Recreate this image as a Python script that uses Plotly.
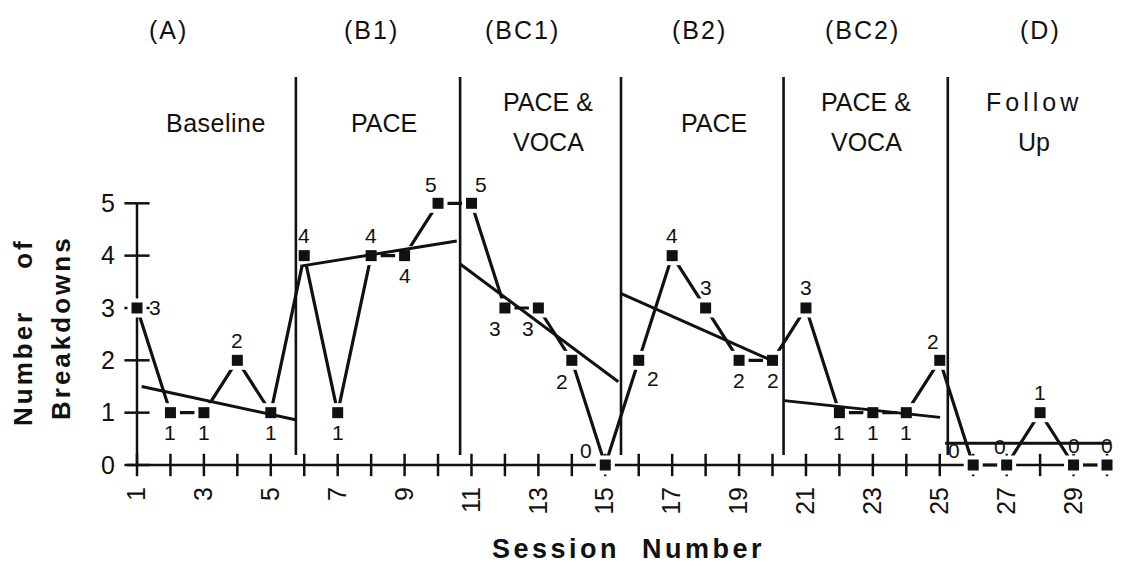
import plotly.graph_objects as go

# ---------------- data ----------------
sessions = list(range(1, 31))
breakdowns = [3, 1, 1, 2, 1,
              4, 1, 4, 4, 5,
              5, 3, 3, 2, 0,
              2, 4, 3, 2, 2,
              3, 1, 1, 1, 2,
              0, 0, 1, 0, 0]
# where each value label sits relative to its point
label_place = ["r", "b", "b", "t", "b",
               "t", "b", "t", "b", "tl",
               "tr", "bl", "bl", "bl", "l",
               "br", "t", "t", "b", "b",
               "t", "b", "b", "b", "tl",
               "l", "tl", "t", "t", "t"]

phase_codes = ["(A)", "(B1)", "(BC1)", "(B2)", "(BC2)", "(D)"]
phase_names = [["Baseline"], ["PACE"], ["PACE &", "VOCA"], ["PACE"], ["PACE &", "VOCA"], ["Follow", "Up"]]
phase_breaks = [5.75, 10.66, 15.47, 20.33, 25.24]

# per-phase trend lines (start / end session and level)
trend_x0 = [1.14, 5.89, 10.66, 15.46, 20.35, 25.16]
trend_x1 = [5.77, 10.56, 15.39, 20.07, 25.01, 30.09]
trend_y0 = [1.50, 3.80, 3.84, 3.28, 1.23, 0.415]
trend_y1 = [0.86, 4.28, 1.59, 1.97, 0.91, 0.415]

x_ticks = [s for s in sessions if s % 2 == 1]
y_ticks = [0, 1, 2, 3, 4, 5]

# ---------------- geometry / style ----------------
W, H = 1123, 567
X_FIRST_PX, X_LAST_PX = 137, 1107
Y0_PX, Y5_PX = 465, 203.3
ux = (X_LAST_PX - X_FIRST_PX) / (sessions[-1] - sessions[0])
uy = (Y0_PX - Y5_PX) / 5
x_range = [sessions[0] - X_FIRST_PX / ux, sessions[-1] + (W - X_LAST_PX) / ux]
y_range = [-(H - Y0_PX) / uy, 5 + Y5_PX / uy]

FONT = "Liberation Sans, Arial, Helvetica, sans-serif"
BLACK = "#111111"
PLACE_OFFSET = {"t": (0, -20), "b": (0, 20), "r": (18, 0), "tr": (10, -19),
                "tl": (-7, -19), "bl": (-10, 21), "br": (14, 18), "l": (-19, -15)}

fig = go.Figure()

# axis lines (drawn below the marker halos)
fig.add_trace(go.Scatter(x=[sessions[0] - 0.3, sessions[-1] + 0.1], y=[0, 0], mode="lines",
                         line=dict(color=BLACK, width=2.5), hoverinfo="skip"))
fig.add_trace(go.Scatter(x=[sessions[0], sessions[0]], y=[y_ticks[0], y_ticks[-1]], mode="lines",
                         line=dict(color=BLACK, width=2.5), hoverinfo="skip"))
# crossing tick marks
fig.add_trace(go.Scatter(x=sessions, y=[0] * len(sessions), mode="markers",
                         marker=dict(symbol="line-ns", size=16, line=dict(color=BLACK, width=2.5)),
                         hoverinfo="skip"))
fig.add_trace(go.Scatter(x=[sessions[0]] * len(y_ticks), y=y_ticks, mode="markers",
                         marker=dict(symbol="line-ew", size=18, line=dict(color=BLACK, width=2.5)),
                         hoverinfo="skip"))

# data line
fig.add_trace(go.Scatter(x=sessions, y=breakdowns, mode="lines",
                         line=dict(color=BLACK, width=3.2), hoverinfo="skip"))
# white halos around the data points (gaps in the connecting line)
fig.add_trace(go.Scatter(x=sessions, y=breakdowns, mode="markers",
                         marker=dict(symbol="square", size=19, color="white"), hoverinfo="skip"))

# trend lines
tx, ty = [], []
for a, b, c, d in zip(trend_x0, trend_x1, trend_y0, trend_y1):
    tx += [a, b, None]
    ty += [c, d, None]
fig.add_trace(go.Scatter(x=tx, y=ty, mode="lines", line=dict(color=BLACK, width=3),
                         hoverinfo="skip"))

# phase change lines
PH_Y0 = (Y0_PX - 455) / uy
PH_Y1 = (Y0_PX - 77) / uy
px_, py_ = [], []
for b in phase_breaks:
    px_ += [b, b, None]
    py_ += [PH_Y0, PH_Y1, None]
fig.add_trace(go.Scatter(x=px_, y=py_, mode="lines", line=dict(color=BLACK, width=2.6),
                         hoverinfo="skip"))

# data markers
fig.add_trace(go.Scatter(x=sessions, y=breakdowns, mode="markers",
                         marker=dict(symbol="square", size=11, color=BLACK),
                         cliponaxis=False, hoverinfo="skip"))

# ---------------- annotations ----------------
ann = []
# value labels next to each point
for s, v, p in zip(sessions, breakdowns, label_place):
    dx, dy = PLACE_OFFSET[p]
    ann.append(dict(x=s, y=v, xref="x", yref="y", text=str(v), showarrow=False,
                    xanchor="center", yanchor="middle", xshift=dx, yshift=-dy,
                    font=dict(family=FONT, size=21, color=BLACK)))

code_x_px = [168, 371, 522, 699, 862, 1040]
name_x_px = [216, 384, 548, 714, 866, 1034]
name_spacing = [[0.5], [0], [0, 0], [0], [0, 0], [4, 0]]
for code, cx in zip(phase_codes, code_x_px):
    ann.append(dict(x=cx / W, y=1 - 30 / H, xref="paper", yref="paper",
                    text='<span style="letter-spacing:2px">' + code + '</span>',
                    showarrow=False, xanchor="center", yanchor="middle",
                    font=dict(family=FONT, size=25, color=BLACK)))
for lines, nx, sps in zip(phase_names, name_x_px, name_spacing):
    ys = [123] if len(lines) == 1 else [102, 142]
    for t, yy, sp in zip(lines, ys, sps):
        ann.append(dict(x=nx / W, y=1 - yy / H, xref="paper", yref="paper",
                        text='<span style="letter-spacing:%gpx">%s</span>' % (sp, t),
                        showarrow=False, xanchor="center", yanchor="middle",
                        font=dict(family=FONT, size=25, color=BLACK)))

TITLE_FONT = dict(family=FONT, size=27, color=BLACK)
ann.append(dict(x=628 / W, y=1 - 549 / H, xref="paper", yref="paper",
                text='<b><span style="letter-spacing:3.5px">Session\u00a0\u00a0Number</span></b>',
                showarrow=False, xanchor="center", yanchor="middle", font=TITLE_FONT))
ann.append(dict(x=23 / W, y=1 - 332 / H, xref="paper", yref="paper",
                text='<b><span style="letter-spacing:3px">Number\u00a0\u00a0\u00a0\u00a0of</span></b>',
                showarrow=False, xanchor="center", yanchor="middle", textangle=-90,
                font=dict(family=FONT, size=26, color=BLACK)))
ann.append(dict(x=61 / W, y=1 - 328 / H, xref="paper", yref="paper",
                text='<b><span style="letter-spacing:3px">Breakdowns</span></b>',
                showarrow=False, xanchor="center", yanchor="middle", textangle=-90,
                font=dict(family=FONT, size=26, color=BLACK)))

fig.update_layout(
    width=W, height=H, autosize=False,
    margin=dict(l=0, r=0, t=0, b=0, pad=0),
    paper_bgcolor="white", plot_bgcolor="white",
    showlegend=False,
    annotations=ann,
    xaxis=dict(range=x_range, anchor="free", position=(H - Y0_PX) / H,
               showgrid=False, zeroline=False, showline=False, ticks="",
               tickvals=x_ticks, ticktext=[str(v) for v in x_ticks], tickangle=-90,
               ticklabelstandoff=16, tickfont=dict(family=FONT, size=25, color=BLACK),
               layer="below traces", fixedrange=True),
    yaxis=dict(range=y_range, anchor="free", position=X_FIRST_PX / W,
               showgrid=False, zeroline=False, showline=False, ticks="",
               tickvals=y_ticks, ticktext=[str(v) for v in y_ticks],
               ticklabelstandoff=22, tickfont=dict(family=FONT, size=25, color=BLACK),
               layer="below traces", fixedrange=True),
)

fig.write_html("out.html")
